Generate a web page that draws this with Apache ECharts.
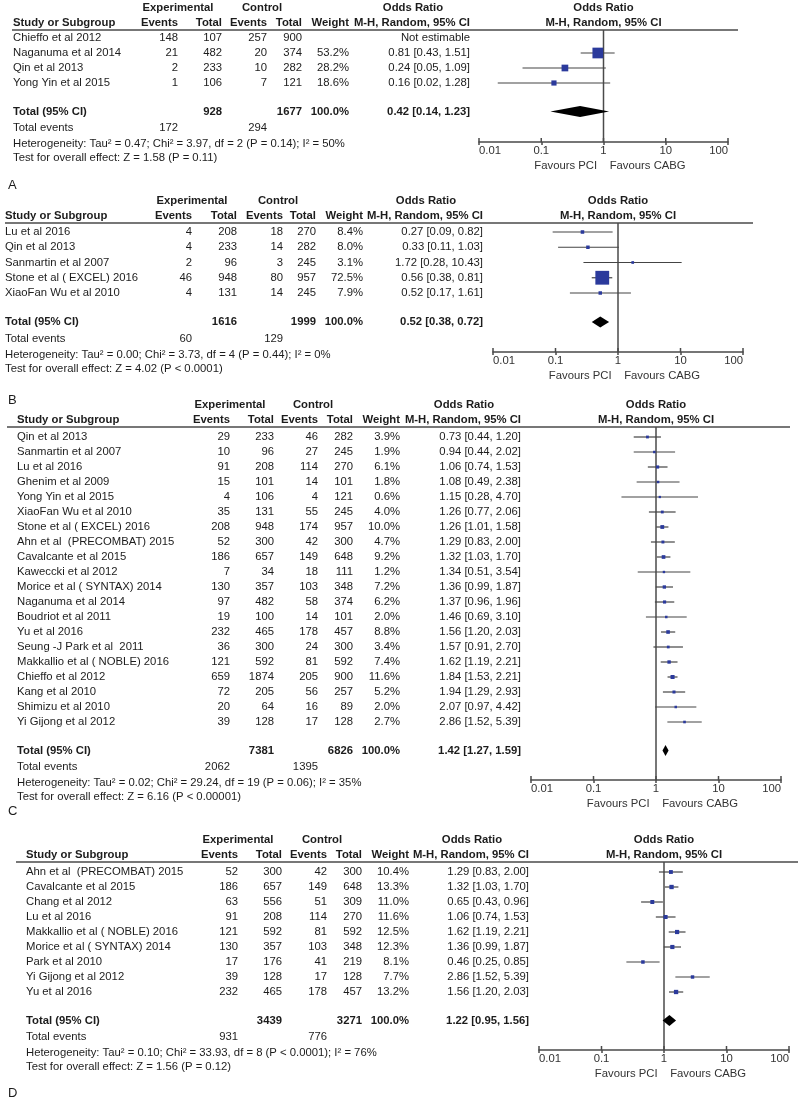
<!DOCTYPE html>
<html>
<head>
<meta charset="utf-8">
<script src="https://cdn.jsdelivr.net/npm/echarts@6/dist/echarts.min.js"></script>
<style>
  html, body { margin: 0; padding: 0; background: #fff; }
  #chart { width: 800px; height: 1100px; }
</style>
</head>
<body>
<div id="chart"></div>
<script>
// odds-ratio axis ticks shared by all panels
const axisTicks = [0.01, 0.1, 1, 10, 100];

// ---------- panel A
const studyA = ['Chieffo et al 2012', 'Naganuma et al 2014', 'Qin et al 2013', 'Yong Yin et al 2015'];
const expEventsA = [148, 21, 2, 1];
const expTotalA = [107, 482, 233, 106];
const ctlEventsA = [257, 20, 10, 7];
const ctlTotalA = [900, 374, 282, 121];
const weightA = [null, 53.2, 28.2, 18.6];
const orA = [null, 0.81, 0.24, 0.16];
const loA = [null, 0.43, 0.05, 0.02];
const hiA = [null, 1.51, 1.09, 1.28];
const sumTotalsA = [928, 1677];
const sumOrA = [0.42, 0.14, 1.23];
const sumEventsA = [172, 294];
const hetA = 'Heterogeneity: Tau² = 0.47; Chi² = 3.97, df = 2 (P = 0.14); I² = 50%';
const testA = 'Test for overall effect: Z = 1.58 (P = 0.11)';

// ---------- panel B
const studyB = ['Lu et al 2016', 'Qin et al 2013', 'Sanmartin et al 2007', 'Stone et al ( EXCEL) 2016', 'XiaoFan Wu et al 2010'];
const expEventsB = [4, 4, 2, 46, 4];
const expTotalB = [208, 233, 96, 948, 131];
const ctlEventsB = [18, 14, 3, 80, 14];
const ctlTotalB = [270, 282, 245, 957, 245];
const weightB = [8.4, 8.0, 3.1, 72.5, 7.9];
const orB = [0.27, 0.33, 1.72, 0.56, 0.52];
const loB = [0.09, 0.11, 0.28, 0.38, 0.17];
const hiB = [0.82, 1.03, 10.43, 0.81, 1.61];
const sumTotalsB = [1616, 1999];
const sumOrB = [0.52, 0.38, 0.72];
const sumEventsB = [60, 129];
const hetB = 'Heterogeneity: Tau² = 0.00; Chi² = 3.73, df = 4 (P = 0.44); I² = 0%';
const testB = 'Test for overall effect: Z = 4.02 (P < 0.0001)';

// ---------- panel C
const studyC = ['Qin et al 2013', 'Sanmartin et al 2007', 'Lu et al 2016', 'Ghenim et al 2009', 'Yong Yin et al 2015',
  'XiaoFan Wu et al 2010', 'Stone et al ( EXCEL) 2016', 'Ahn et al  (PRECOMBAT) 2015', 'Cavalcante et al 2015',
  'Kaweccki et al 2012', 'Morice et al ( SYNTAX) 2014', 'Naganuma et al 2014', 'Boudriot et al 2011', 'Yu et al 2016',
  'Seung -J Park et al  2011', 'Makkallio et al ( NOBLE) 2016', 'Chieffo et al 2012', 'Kang et al 2010',
  'Shimizu et al 2010', 'Yi Gijong et al 2012'];
const expEventsC = [29, 10, 91, 15, 4, 35, 208, 52, 186, 7, 130, 97, 19, 232, 36, 121, 659, 72, 20, 39];
const expTotalC = [233, 96, 208, 101, 106, 131, 948, 300, 657, 34, 357, 482, 100, 465, 300, 592, 1874, 205, 64, 128];
const ctlEventsC = [46, 27, 114, 14, 4, 55, 174, 42, 149, 18, 103, 58, 14, 178, 24, 81, 205, 56, 16, 17];
const ctlTotalC = [282, 245, 270, 101, 121, 245, 957, 300, 648, 111, 348, 374, 101, 457, 300, 592, 900, 257, 89, 128];
const weightC = [3.9, 1.9, 6.1, 1.8, 0.6, 4.0, 10.0, 4.7, 9.2, 1.2, 7.2, 6.2, 2.0, 8.8, 3.4, 7.4, 11.6, 5.2, 2.0, 2.7];
const orC = [0.73, 0.94, 1.06, 1.08, 1.15, 1.26, 1.26, 1.29, 1.32, 1.34, 1.36, 1.37, 1.46, 1.56, 1.57, 1.62, 1.84, 1.94, 2.07, 2.86];
const loC = [0.44, 0.44, 0.74, 0.49, 0.28, 0.77, 1.01, 0.83, 1.03, 0.51, 0.99, 0.96, 0.69, 1.20, 0.91, 1.19, 1.53, 1.29, 0.97, 1.52];
const hiC = [1.20, 2.02, 1.53, 2.38, 4.70, 2.06, 1.58, 2.00, 1.70, 3.54, 1.87, 1.96, 3.10, 2.03, 2.70, 2.21, 2.21, 2.93, 4.42, 5.39];
const sumTotalsC = [7381, 6826];
const sumOrC = [1.42, 1.27, 1.59];
const sumEventsC = [2062, 1395];
const hetC = 'Heterogeneity: Tau² = 0.02; Chi² = 29.24, df = 19 (P = 0.06); I² = 35%';
const testC = 'Test for overall effect: Z = 6.16 (P < 0.00001)';

// ---------- panel D
const studyD = ['Ahn et al  (PRECOMBAT) 2015', 'Cavalcante et al 2015', 'Chang et al 2012', 'Lu et al 2016',
  'Makkallio et al ( NOBLE) 2016', 'Morice et al ( SYNTAX) 2014', 'Park et al 2010', 'Yi Gijong et al 2012', 'Yu et al 2016'];
const expEventsD = [52, 186, 63, 91, 121, 130, 17, 39, 232];
const expTotalD = [300, 657, 556, 208, 592, 357, 176, 128, 465];
const ctlEventsD = [42, 149, 51, 114, 81, 103, 41, 17, 178];
const ctlTotalD = [300, 648, 309, 270, 592, 348, 219, 128, 457];
const weightD = [10.4, 13.3, 11.0, 11.6, 12.5, 12.3, 8.1, 7.7, 13.2];
const orD = [1.29, 1.32, 0.65, 1.06, 1.62, 1.36, 0.46, 2.86, 1.56];
const loD = [0.83, 1.03, 0.43, 0.74, 1.19, 0.99, 0.25, 1.52, 1.20];
const hiD = [2.00, 1.70, 0.96, 1.53, 2.21, 1.87, 0.85, 5.39, 2.03];
const sumTotalsD = [3439, 3271];
const sumOrD = [1.22, 0.95, 1.56];
const sumEventsD = [931, 776];
const hetD = 'Heterogeneity: Tau² = 0.10; Chi² = 33.93, df = 8 (P < 0.0001); I² = 76%';
const testD = 'Test for overall effect: Z = 1.56 (P = 0.12)';

const panels = [
  { study: studyA, expEv: expEventsA, expN: expTotalA, ctlEv: ctlEventsA, ctlN: ctlTotalA, w: weightA, or: orA, lo: loA, hi: hiA,
    totN: sumTotalsA, totOr: sumOrA, totEv: sumEventsA, het: hetA, test: testA },
  { study: studyB, expEv: expEventsB, expN: expTotalB, ctlEv: ctlEventsB, ctlN: ctlTotalB, w: weightB, or: orB, lo: loB, hi: hiB,
    totN: sumTotalsB, totOr: sumOrB, totEv: sumEventsB, het: hetB, test: testB },
  { study: studyC, expEv: expEventsC, expN: expTotalC, ctlEv: ctlEventsC, ctlN: ctlTotalC, w: weightC, or: orC, lo: loC, hi: hiC,
    totN: sumTotalsC, totOr: sumOrC, totEv: sumEventsC, het: hetC, test: testC },
  { study: studyD, expEv: expEventsD, expN: expTotalD, ctlEv: ctlEventsD, ctlN: ctlTotalD, w: weightD, or: orD, lo: loD, hi: hiD,
    totN: sumTotalsD, totOr: sumOrD, totEv: sumEventsD, het: hetD, test: testD }
];

// layout (pixels): header rule, forest grid, first row and row step, table columns
const layouts = [
  { letter: 'A', letterY: 185, ruleX1: 12, ruleX2: 738, top: 30, bottom: 142, left: 479, right: 728, row0: 38, step: 15,
    cols: [13, 178, 222, 267, 302, 349, 470] },
  { letter: 'B', letterY: 400, ruleX1: 5, ruleX2: 753, top: 223, bottom: 352, left: 493, right: 743, row0: 232, step: 15.25,
    cols: [5, 192, 237, 283, 316, 363, 483] },
  { letter: 'C', letterY: 811, ruleX1: 7, ruleX2: 790, top: 427, bottom: 780, left: 531, right: 781, row0: 437, step: 15,
    cols: [17, 230, 274, 318, 353, 400, 521] },
  { letter: 'D', letterY: 1093, ruleX1: 16, ruleX2: 798, top: 862, bottom: 1050, left: 539, right: 789, row0: 872, step: 15,
    cols: [26, 238, 282, 327, 362, 409, 529] }
];

const FONT = '"Liberation Sans", Arial, sans-serif';
const FS = 11.3;
const INK = '#1c1c1c';
const RULE = '#4a4a4a';
const BOX = '#2b3a9c';

function txt(x, y, s, align, bold, size) {
  return {
    type: 'text', x: x, y: y, silent: true,
    style: { text: s, fill: INK, fontSize: size || FS, fontWeight: bold ? 'bold' : 'normal',
      fontFamily: FONT, align: align, verticalAlign: 'middle' }
  };
}
function fmtOr(o, l, h) { return o.toFixed(2) + ' [' + l.toFixed(2) + ', ' + h.toFixed(2) + ']'; }

const grids = [], xAxes = [], yAxes = [], series = [], graphics = [];

panels.forEach(function (p, k) {
  const L = layouts[k];
  const n = p.study.length;
  const c = L.cols;
  const yMin = (L.top - L.row0) / L.step;
  const yMax = (L.bottom - L.row0) / L.step;
  const midX = (L.left + L.right) / 2;

  grids.push({ left: L.left, width: L.right - L.left, top: L.top, height: L.bottom - L.top });
  xAxes.push({
    type: 'log', logBase: 10, min: 0.01, max: 100, gridIndex: k, position: 'bottom',
    splitLine: { show: false }, minorTick: { show: false },
    axisLine: { onZero: false, lineStyle: { color: RULE, width: 1.6 } },
    axisTick: { length: 3, lineStyle: { color: RULE, width: 1.5 } },
    axisLabel: { color: '#333', fontSize: FS, fontFamily: FONT, margin: 3,
      alignMinLabel: 'left', alignMaxLabel: 'right',
      formatter: function (v) { return String(parseFloat(Number(v).toPrecision(3))); } },
    name: 'Favours PCI    Favours CABG', nameLocation: 'middle', nameGap: 18,
    nameTextStyle: { color: '#333', fontSize: FS, fontFamily: FONT, padding: [0, 0, 0, 13] }
  });
  yAxes.push({ type: 'value', gridIndex: k, inverse: true, min: yMin, max: yMax, show: false });

  // line of no effect plus the upward half of the axis ticks
  series.push({
    type: 'custom', xAxisIndex: k, yAxisIndex: k, silent: true,
    data: [[1, yMin, yMax]],
    renderItem: function (params, api) {
      const a = api.coord([1, api.value(1)]);
      const b = api.coord([1, api.value(2)]);
      const kids = [{ type: 'line', shape: { x1: a[0], y1: a[1], x2: b[0], y2: b[1] },
        style: { stroke: RULE, lineWidth: 1.5 } }];
      axisTicks.forEach(function (t) {
        const q = api.coord([t, api.value(2)]);
        kids.push({ type: 'line', shape: { x1: q[0], y1: q[1], x2: q[0], y2: q[1] - 4 },
          style: { stroke: RULE, lineWidth: 1.5 } });
      });
      return { type: 'group', children: kids };
    }
  });

  // study estimates
  const est = [];
  for (let i = 0; i < n; i++) {
    if (p.or[i] != null) est.push([p.or[i], i, p.lo[i], p.hi[i], p.w[i]]);
  }
  series.push({
    type: 'custom', xAxisIndex: k, yAxisIndex: k, silent: true,
    data: est,
    renderItem: function (params, api) {
      const y = api.value(1);
      const pt = api.coord([api.value(0), y]);
      const l = api.coord([api.value(2), y]);
      const h = api.coord([api.value(3), y]);
      const s = 2.2 + 0.16 * api.value(4);
      return { type: 'group', children: [
        { type: 'line', shape: { x1: l[0], y1: l[1], x2: h[0], y2: h[1] }, style: { stroke: '#444', lineWidth: 1.2 } },
        { type: 'rect', shape: { x: pt[0] - s / 2, y: pt[1] - s / 2, width: s, height: s }, style: { fill: BOX } }
      ] };
    }
  });

  // pooled diamond
  series.push({
    type: 'custom', xAxisIndex: k, yAxisIndex: k, silent: true,
    data: [[p.totOr[0], n + 0.9, p.totOr[1], p.totOr[2]]],
    renderItem: function (params, api) {
      const y = api.value(1);
      const pt = api.coord([api.value(0), y]);
      const l = api.coord([api.value(2), y]);
      const h = api.coord([api.value(3), y]);
      return { type: 'polygon',
        shape: { points: [[l[0], l[1]], [pt[0], pt[1] - 5.5], [h[0], h[1]], [pt[0], pt[1] + 5.5]] },
        style: { fill: '#000' } };
    }
  });

  // table text (rows and summary lines), placed on the panel's row scale
  const rows = [];
  for (let i = 0; i < n; i++) rows.push([1, i, 0, i]);
  rows.push([1, n + 0.9, 1, 0]);
  rows.push([1, n + 2, 2, 0]);
  rows.push([1, n + 3.05, 3, 0]);
  rows.push([1, n + 4, 4, 0]);
  series.push({
    type: 'custom', xAxisIndex: k, yAxisIndex: k, silent: true, clip: false,
    data: rows,
    renderItem: function (params, api) {
      const y = api.coord([1, api.value(1)])[1];
      const kind = api.value(2);
      const i = api.value(3);
      let kids;
      if (kind === 0) {
        kids = [
          txt(c[0], y, p.study[i], 'left'),
          txt(c[1], y, String(p.expEv[i]), 'right'),
          txt(c[2], y, String(p.expN[i]), 'right'),
          txt(c[3], y, String(p.ctlEv[i]), 'right'),
          txt(c[4], y, String(p.ctlN[i]), 'right'),
          txt(c[5], y, p.w[i] == null ? '' : p.w[i].toFixed(1) + '%', 'right'),
          txt(c[6], y, p.or[i] == null ? 'Not estimable' : fmtOr(p.or[i], p.lo[i], p.hi[i]), 'right')
        ];
      } else if (kind === 1) {
        kids = [
          txt(c[0], y, 'Total (95% CI)', 'left', true),
          txt(c[2], y, String(p.totN[0]), 'right', true),
          txt(c[4], y, String(p.totN[1]), 'right', true),
          txt(c[5], y, '100.0%', 'right', true),
          txt(c[6], y, fmtOr(p.totOr[0], p.totOr[1], p.totOr[2]), 'right', true)
        ];
      } else if (kind === 2) {
        kids = [
          txt(c[0], y, 'Total events', 'left'),
          txt(c[1], y, String(p.totEv[0]), 'right'),
          txt(c[3], y, String(p.totEv[1]), 'right')
        ];
      } else if (kind === 3) {
        kids = [txt(c[0], y, p.het, 'left')];
      } else {
        kids = [txt(c[0], y, p.test, 'left')];
      }
      return { type: 'group', children: kids };
    }
  });

  // headers, rule, panel letter
  const h1 = L.top - 22, h2 = L.top - 7;
  graphics.push(
    txt(c[1], h1, 'Experimental', 'center', true),
    txt(c[3] - 5, h1, 'Control', 'center', true),
    txt(c[6] - 57, h1, 'Odds Ratio', 'center', true),
    txt(midX, h1, 'Odds Ratio', 'center', true),
    txt(c[0], h2, 'Study or Subgroup', 'left', true),
    txt(c[1], h2, 'Events', 'right', true),
    txt(c[2], h2, 'Total', 'right', true),
    txt(c[3], h2, 'Events', 'right', true),
    txt(c[4], h2, 'Total', 'right', true),
    txt(c[5], h2, 'Weight', 'right', true),
    txt(c[6], h2, 'M-H, Random, 95% CI', 'right', true),
    txt(midX, h2, 'M-H, Random, 95% CI', 'center', true),
    { type: 'line', silent: true, shape: { x1: L.ruleX1, y1: L.top, x2: L.ruleX2, y2: L.top },
      style: { stroke: RULE, lineWidth: 1.6 } },
    txt(8, L.letterY, L.letter, 'left', false, 13)
  );
});

const chart = echarts.init(document.getElementById('chart'), null, { renderer: 'canvas' });
chart.setOption({
  animation: false,
  backgroundColor: '#fff',
  grid: grids,
  xAxis: xAxes,
  yAxis: yAxes,
  series: series,
  graphic: { elements: graphics }
});
</script>
</body>
</html>
